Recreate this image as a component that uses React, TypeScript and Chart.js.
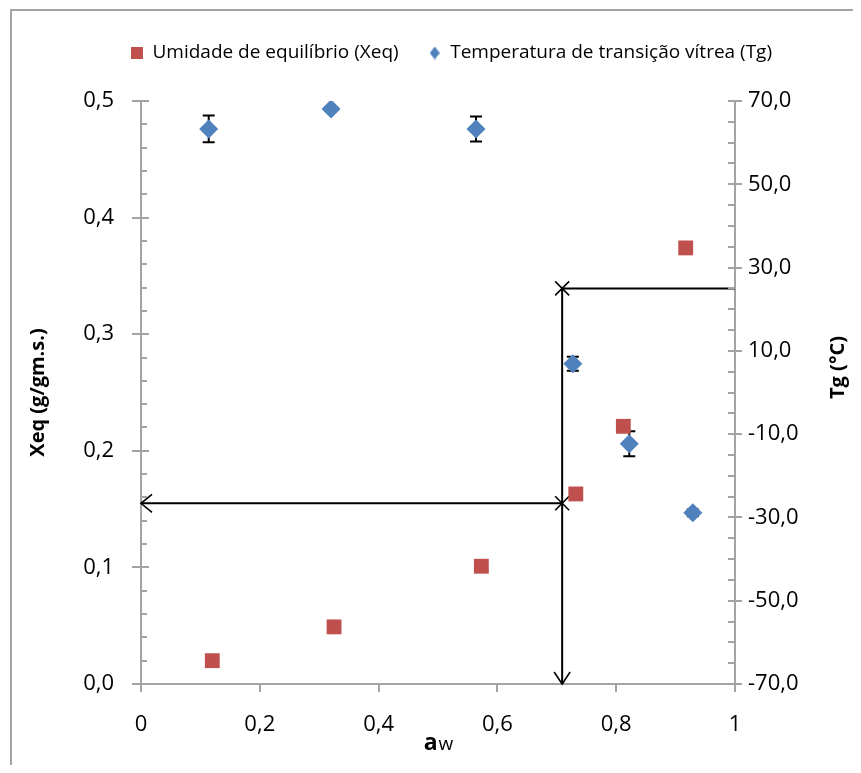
import React, { useEffect, useRef } from 'react';
import { Chart, registerables } from 'chart.js';

Chart.register(...registerables);

// ---- data ----
const awXeq = [0.12, 0.325, 0.573, 0.732, 0.812, 0.917];
const xeqValues = [0.02, 0.049, 0.101, 0.163, 0.221, 0.374];

const awTg = [0.114, 0.32, 0.564, 0.727, 0.822, 0.929];
const tgValues = [63.3, 68.1, 63.3, 6.9, -12.3, -28.9];
const tgErrors = [3.2, 0.5, 3.0, 1.7, 3.0, 0.8];

const legendLabels = ['Umidade de equilíbrio (Xeq)', 'Temperatura de transição vítrea (Tg)'];
const leftTitle = 'Xeq (g/gm.s.)';
const rightTitle = 'Tg (°C)';
const bottomTitleMain = 'a';
const bottomTitleSub = 'w';

// guide lines (aw, Xeq low, Tg high)
const guideAw = 0.709;
const guideXeq = 0.155;
const guideTg = 25;

const leftMinorStep = 0.02;
const rightMinorStep = 5;

const FONT = "'Open Sans', 'Noto Sans', sans-serif";
const AXIS_COLOR = '#a3a3a3';
const RED = '#C0504D';
const BLUE = '#4F81BD';

const fmt1 = (v: number) => v.toFixed(1).replace('.', ',');

const errorBarPlugin = {
  id: 'errorBars',
  beforeDatasetsDraw(chart: any) {
    const { ctx, scales } = chart;
    const sx = scales.x;
    const sy = scales.y2;
    ctx.save();
    ctx.strokeStyle = '#000';
    ctx.lineWidth = 2;
    awTg.forEach((a, i) => {
      const px = sx.getPixelForValue(a);
      const top = sy.getPixelForValue(tgValues[i] + tgErrors[i]);
      const bot = sy.getPixelForValue(tgValues[i] - tgErrors[i]);
      ctx.beginPath();
      ctx.moveTo(px, top);
      ctx.lineTo(px, bot);
      ctx.moveTo(px - 6, top);
      ctx.lineTo(px + 6, top);
      ctx.moveTo(px - 6, bot);
      ctx.lineTo(px + 6, bot);
      ctx.stroke();
    });
    ctx.restore();
  },
};

const guidePlugin = {
  id: 'guides',
  beforeDatasetsDraw(chart: any) {
    const { ctx, scales } = chart;
    const sx = scales.x;
    const sy = scales.y;
    const sy2 = scales.y2;
    const gx = sx.getPixelForValue(guideAw);
    const x0 = sx.getPixelForValue(0);
    const x1 = sx.getPixelForValue(1);
    const yLow = sy.getPixelForValue(guideXeq);
    const yBottom = sy.getPixelForValue(0);
    const yHigh = sy2.getPixelForValue(guideTg);
    ctx.save();
    ctx.strokeStyle = '#000';
    ctx.lineWidth = 2;
    ctx.beginPath();
    // vertical
    ctx.moveTo(gx, yHigh);
    ctx.lineTo(gx, yBottom);
    // lower horizontal
    ctx.moveTo(gx, yLow);
    ctx.lineTo(x0, yLow);
    // upper horizontal
    ctx.moveTo(gx, yHigh);
    ctx.lineTo(x1, yHigh);
    ctx.stroke();
    // arrow heads
    ctx.lineWidth = 1.6;
    ctx.beginPath();
    ctx.moveTo(x0 + 11, yLow - 9);
    ctx.lineTo(x0, yLow);
    ctx.lineTo(x0 + 11, yLow + 9);
    ctx.moveTo(gx - 8, yBottom - 12);
    ctx.lineTo(gx, yBottom);
    ctx.lineTo(gx + 8, yBottom - 12);
    // X marks
    [yHigh, yLow].forEach((yy) => {
      ctx.moveTo(gx - 7, yy - 7);
      ctx.lineTo(gx + 7, yy + 7);
      ctx.moveTo(gx + 7, yy - 7);
      ctx.lineTo(gx - 7, yy + 7);
    });
    ctx.stroke();
    ctx.restore();
  },
};

const axisTickPlugin = {
  id: 'axisTicks',
  afterDraw(chart: any) {
    const { ctx, scales, chartArea } = chart;
    const { x, y, y2 } = scales;
    ctx.save();
    ctx.strokeStyle = AXIS_COLOR;
    ctx.lineWidth = 2;
    ctx.beginPath();
    // left axis
    const l = chartArea.left;
    const nLeft = Math.round((y.max - y.min) / leftMinorStep);
    for (let i = 0; i <= nLeft; i++) {
      const py = Math.round(y.getPixelForValue(y.min + i * leftMinorStep));
      ctx.moveTo(l, py);
      ctx.lineTo(l + 6, py);
    }
    y.ticks.forEach((t: any) => {
      const py = Math.round(y.getPixelForValue(t.value));
      ctx.moveTo(l - 9, py);
      ctx.lineTo(l + 8, py);
    });
    // right axis
    const r = chartArea.right;
    const nRight = Math.round((y2.max - y2.min) / rightMinorStep);
    for (let i = 0; i <= nRight; i++) {
      const py = Math.round(y2.getPixelForValue(y2.min + i * rightMinorStep));
      ctx.moveTo(r - 7, py);
      ctx.lineTo(r, py);
    }
    y2.ticks.forEach((t: any) => {
      const py = Math.round(y2.getPixelForValue(t.value));
      ctx.moveTo(r - 7, py);
      ctx.lineTo(r + 7, py);
    });
    // bottom axis
    const b = chartArea.bottom;
    x.ticks.forEach((t: any) => {
      const px = Math.round(x.getPixelForValue(t.value));
      ctx.moveTo(px, b);
      ctx.lineTo(px, b + 8);
    });
    ctx.stroke();
    ctx.restore();
  },
};

const titlesPlugin = {
  id: 'customTitles',
  afterDraw(chart: any) {
    const { ctx, chartArea } = chart;
    ctx.save();
    ctx.fillStyle = '#000';
    // right title, reads bottom to top
    ctx.translate(830, (chartArea.top + chartArea.bottom) / 2 - 25);
    ctx.rotate(-Math.PI / 2);
    ctx.font = `bold 20px ${FONT}`;
    ctx.textAlign = 'center';
    ctx.textBaseline = 'middle';
    ctx.fillText(rightTitle, 0, 0);
    ctx.restore();

    // bottom title "a" + subscript-like "w"
    ctx.save();
    ctx.fillStyle = '#000';
    ctx.textBaseline = 'alphabetic';
    ctx.textAlign = 'left';
    ctx.font = `bold 23px ${FONT}`;
    const wa = ctx.measureText(bottomTitleMain).width;
    ctx.font = `19px ${FONT}`;
    const ww = ctx.measureText(bottomTitleSub).width;
    const cx = (chartArea.left + chartArea.right) / 2;
    const start = cx - (wa + ww) / 2;
    const base = 742;
    ctx.font = `bold 23px ${FONT}`;
    ctx.fillText(bottomTitleMain, start, base);
    ctx.font = `19px ${FONT}`;
    ctx.fillText(bottomTitleSub, start + wa + 1, base);
    ctx.restore();
  },
};

function makeSquare(): HTMLCanvasElement {
  const c = document.createElement('canvas');
  c.width = 12;
  c.height = 12;
  const g = c.getContext('2d')!;
  g.fillStyle = RED;
  g.fillRect(0, 0, 12, 12);
  return c;
}

function makeDiamond(): HTMLCanvasElement {
  const c = document.createElement('canvas');
  c.width = 10;
  c.height = 13;
  const g = c.getContext('2d')!;
  g.fillStyle = BLUE;
  g.beginPath();
  g.moveTo(5, 0);
  g.lineTo(10, 6.5);
  g.lineTo(5, 13);
  g.lineTo(0, 6.5);
  g.closePath();
  g.fill();
  return c;
}

export default function App() {
  const ref = useRef<HTMLCanvasElement | null>(null);

  useEffect(() => {
    if (!ref.current) return;
    const legendIcons = [makeSquare(), makeDiamond()];
    const chart = new Chart(ref.current, {
      type: 'scatter',
      data: {
        datasets: [
          {
            label: legendLabels[0],
            data: awXeq.map((a, i) => ({ x: a, y: xeqValues[i] })),
            yAxisID: 'y',
            pointStyle: 'rect',
            pointRadius: 10.5,
            pointHoverRadius: 10.5,
            backgroundColor: RED,
            borderColor: RED,
            borderWidth: 0,
            showLine: false,
          },
          {
            label: legendLabels[1],
            data: awTg.map((a, i) => ({ x: a, y: tgValues[i] })),
            yAxisID: 'y2',
            pointStyle: 'rectRot',
            pointRadius: 9.5,
            pointHoverRadius: 9.5,
            backgroundColor: BLUE,
            borderColor: BLUE,
            borderWidth: 0,
            showLine: false,
          },
        ],
      },
      options: {
        responsive: false,
        animation: false,
        events: [],
        layout: { padding: { left: 34, top: 5.5, right: 0, bottom: 0 } },
        plugins: {
          tooltip: { enabled: false },
          legend: {
            position: 'top',
            labels: {
              usePointStyle: true,
              boxWidth: 12,
              boxHeight: 12,
              padding: 30,
              color: '#000',
              font: { family: FONT, size: 19 },
              generateLabels: (ch: any) => {
                const items = Chart.defaults.plugins.legend.labels.generateLabels(ch);
                items.forEach((it: any, i: number) => {
                  it.pointStyle = legendIcons[i];
                  it.fontColor = '#000';
                });
                return items;
              },
            },
          },
          title: {
            display: true,
            text: ' ',
            weight: 500,
            position: 'top',
            font: { size: 10, lineHeight: 1 },
            padding: { top: 0, bottom: 18.5 },
          },
        },
        scales: {
          x: {
            type: 'linear',
            position: 'bottom',
            min: 0,
            max: 1,
            ticks: {
              stepSize: 0.2,
              padding: 28,
              color: '#000',
              font: { family: FONT, size: 22 },
              callback: (v: any) => (v === 0 || v === 1 ? String(v) : fmt1(Number(v))),
            },
            grid: { display: false, drawTicks: false },
            border: { display: true, color: AXIS_COLOR, width: 2 },
            afterFit: (s: any) => {
              s.height = 81;
            },
          },
          y: {
            type: 'linear',
            position: 'left',
            min: 0,
            max: 0.5,
            ticks: {
              stepSize: 0.1,
              padding: 27,
              color: '#000',
              font: { family: FONT, size: 22 },
              callback: (v: any) => fmt1(Number(v)),
            },
            title: {
              display: true,
              text: leftTitle,
              color: '#000',
              font: { family: FONT, size: 20, weight: 'bold' },
              padding: { top: -16, bottom: 0 },
            },
            grid: { display: false, drawTicks: false },
            border: { display: true, color: AXIS_COLOR, width: 2 },
            afterFit: (s: any) => {
              s.width = 99;
            },
          },
          y2: {
            type: 'linear',
            position: 'right',
            min: -70,
            max: 70,
            ticks: {
              stepSize: 20,
              padding: 13,
              color: '#000',
              font: { family: FONT, size: 22 },
              callback: (v: any) => fmt1(Number(v)),
            },
            grid: { display: false, drawTicks: false },
            border: { display: true, color: AXIS_COLOR, width: 2 },
            afterFit: (s: any) => {
              s.width = 126;
            },
          },
        },
      },
      plugins: [guidePlugin, errorBarPlugin, axisTickPlugin, titlesPlugin],
    } as any);
    return () => chart.destroy();
  }, []);

  return (
    <div style={{ position: 'relative', width: 853, height: 757, overflow: 'hidden' }}>
      <div
        style={{
          position: 'absolute',
          left: 2,
          top: 1,
          width: 2000,
          height: 2000,
          borderLeft: `2px solid ${AXIS_COLOR}`,
          borderTop: `2px solid ${AXIS_COLOR}`,
        }}
      />
      <canvas
        ref={ref}
        width={853}
        height={757}
        style={{ position: 'absolute', left: 0, top: 0, width: 853, height: 757 }}
      />
    </div>
  );
}
